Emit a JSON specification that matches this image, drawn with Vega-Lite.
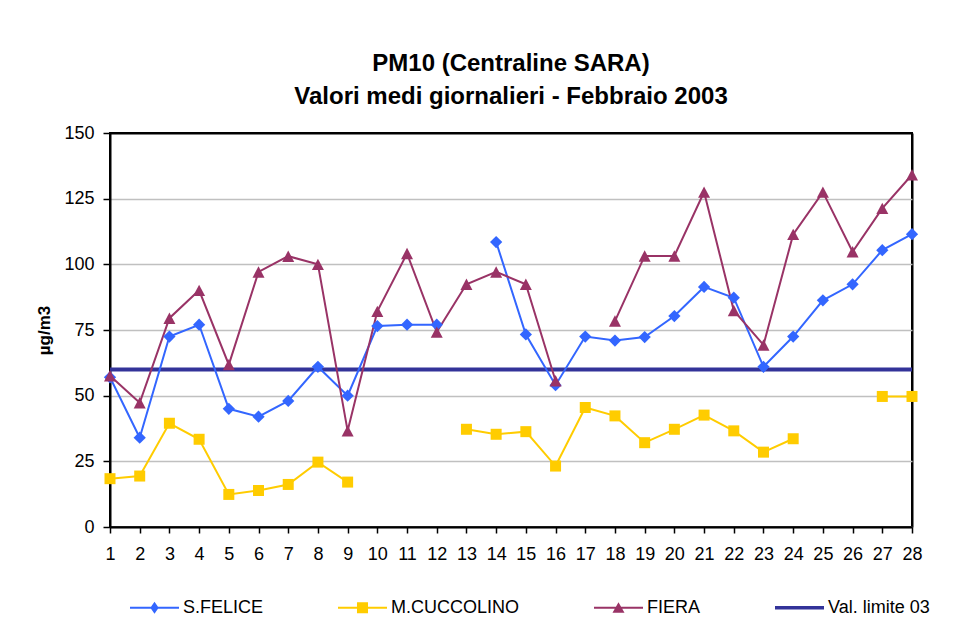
{
  "$schema": "https://vega.github.io/schema/vega-lite/v6.json",
  "width": 802,
  "height": 394,
  "autosize": "none",
  "padding": {"left": 110, "top": 133, "right": 60, "bottom": 101},
  "background": "white",
  "view": {"stroke": "black", "strokeWidth": 2},
  "title": {
    "text": ["PM10 (Centraline SARA)", "Valori medi giornalieri - Febbraio 2003"],
    "font": "Liberation Sans",
    "fontSize": 24,
    "fontWeight": "bold",
    "color": "black",
    "lineHeight": 33,
    "anchor": "middle",
    "frame": "group",
    "offset": 15
  },
  "config": {
    "view": {"stroke": "black", "strokeWidth": 2},
    "font": "Liberation Sans",
    "axis": {
      "labelFont": "Liberation Sans",
      "labelFontSize": 18,
      "labelColor": "black",
      "domainColor": "black",
      "domainWidth": 2,
      "tickColor": "black",
      "tickWidth": 1.5,
      "tickSize": 6,
      "titleFont": "Liberation Sans",
      "titleColor": "black"
    },
    "legend": {
      "labelFont": "Liberation Sans",
      "labelFontSize": 18,
      "labelColor": "black",
      "labelOffset": 4,
      "symbolSize": 2401,
      "symbolOpacity": 1,
      "symbolStrokeWidth": 0,
      "padding": 0,
      "columnPadding": 74
    }
  },
  "data": {
    "values": [
      {"day": 1, "series": "S.FELICE", "value": 57},
      {"day": 2, "series": "S.FELICE", "value": 34},
      {"day": 3, "series": "S.FELICE", "value": 72.5},
      {"day": 4, "series": "S.FELICE", "value": 77},
      {"day": 5, "series": "S.FELICE", "value": 45},
      {"day": 6, "series": "S.FELICE", "value": 42},
      {"day": 7, "series": "S.FELICE", "value": 48},
      {"day": 8, "series": "S.FELICE", "value": 61},
      {"day": 9, "series": "S.FELICE", "value": 50},
      {"day": 10, "series": "S.FELICE", "value": 76.5},
      {"day": 11, "series": "S.FELICE", "value": 77},
      {"day": 12, "series": "S.FELICE", "value": 77},
      {"day": 13, "series": "S.FELICE", "value": null},
      {"day": 14, "series": "S.FELICE", "value": 108.5},
      {"day": 15, "series": "S.FELICE", "value": 73.3},
      {"day": 16, "series": "S.FELICE", "value": 54},
      {"day": 17, "series": "S.FELICE", "value": 72.5},
      {"day": 18, "series": "S.FELICE", "value": 71},
      {"day": 19, "series": "S.FELICE", "value": 72.3},
      {"day": 20, "series": "S.FELICE", "value": 80.3},
      {"day": 21, "series": "S.FELICE", "value": 91.4},
      {"day": 22, "series": "S.FELICE", "value": 87.3},
      {"day": 23, "series": "S.FELICE", "value": 61},
      {"day": 24, "series": "S.FELICE", "value": 72.5},
      {"day": 25, "series": "S.FELICE", "value": 86.3},
      {"day": 26, "series": "S.FELICE", "value": 92.4},
      {"day": 27, "series": "S.FELICE", "value": 105.4},
      {"day": 28, "series": "S.FELICE", "value": 111.5},
      {"day": 1, "series": "M.CUCCOLINO", "value": 18.4},
      {"day": 2, "series": "M.CUCCOLINO", "value": 19.4},
      {"day": 3, "series": "M.CUCCOLINO", "value": 39.5},
      {"day": 4, "series": "M.CUCCOLINO", "value": 33.4},
      {"day": 5, "series": "M.CUCCOLINO", "value": 12.4},
      {"day": 6, "series": "M.CUCCOLINO", "value": 13.9},
      {"day": 7, "series": "M.CUCCOLINO", "value": 16.2},
      {"day": 8, "series": "M.CUCCOLINO", "value": 24.7},
      {"day": 9, "series": "M.CUCCOLINO", "value": 17.1},
      {"day": 10, "series": "M.CUCCOLINO", "value": null},
      {"day": 11, "series": "M.CUCCOLINO", "value": null},
      {"day": 12, "series": "M.CUCCOLINO", "value": null},
      {"day": 13, "series": "M.CUCCOLINO", "value": 37.2},
      {"day": 14, "series": "M.CUCCOLINO", "value": 35.3},
      {"day": 15, "series": "M.CUCCOLINO", "value": 36.3},
      {"day": 16, "series": "M.CUCCOLINO", "value": 23.2},
      {"day": 17, "series": "M.CUCCOLINO", "value": 45.5},
      {"day": 18, "series": "M.CUCCOLINO", "value": 42.3},
      {"day": 19, "series": "M.CUCCOLINO", "value": 32.1},
      {"day": 20, "series": "M.CUCCOLINO", "value": 37.2},
      {"day": 21, "series": "M.CUCCOLINO", "value": 42.6},
      {"day": 22, "series": "M.CUCCOLINO", "value": 36.6},
      {"day": 23, "series": "M.CUCCOLINO", "value": 28.5},
      {"day": 24, "series": "M.CUCCOLINO", "value": 33.6},
      {"day": 25, "series": "M.CUCCOLINO", "value": null},
      {"day": 26, "series": "M.CUCCOLINO", "value": null},
      {"day": 27, "series": "M.CUCCOLINO", "value": 49.7},
      {"day": 28, "series": "M.CUCCOLINO", "value": 49.7},
      {"day": 1, "series": "FIERA", "value": 57.6},
      {"day": 2, "series": "FIERA", "value": 47.3},
      {"day": 3, "series": "FIERA", "value": 79.5},
      {"day": 4, "series": "FIERA", "value": 90.1},
      {"day": 5, "series": "FIERA", "value": 61.8},
      {"day": 6, "series": "FIERA", "value": 97.1},
      {"day": 7, "series": "FIERA", "value": 103.1},
      {"day": 8, "series": "FIERA", "value": 100},
      {"day": 9, "series": "FIERA", "value": 36.6},
      {"day": 10, "series": "FIERA", "value": 82.1},
      {"day": 11, "series": "FIERA", "value": 104.1},
      {"day": 12, "series": "FIERA", "value": 74.2},
      {"day": 13, "series": "FIERA", "value": 92.4},
      {"day": 14, "series": "FIERA", "value": 97.1},
      {"day": 15, "series": "FIERA", "value": 92.4},
      {"day": 16, "series": "FIERA", "value": 55.7},
      {"day": 17, "series": "FIERA", "value": null},
      {"day": 18, "series": "FIERA", "value": 78.4},
      {"day": 19, "series": "FIERA", "value": 103.2},
      {"day": 20, "series": "FIERA", "value": 103.2},
      {"day": 21, "series": "FIERA", "value": 127.5},
      {"day": 22, "series": "FIERA", "value": 82.4},
      {"day": 23, "series": "FIERA", "value": 69.3},
      {"day": 24, "series": "FIERA", "value": 111.4},
      {"day": 25, "series": "FIERA", "value": 127.5},
      {"day": 26, "series": "FIERA", "value": 104.8},
      {"day": 27, "series": "FIERA", "value": 121.3},
      {"day": 28, "series": "FIERA", "value": 134.1},
      {"day": 1, "series": "Val. limite 03", "value": 60},
      {"day": 2, "series": "Val. limite 03", "value": 60},
      {"day": 3, "series": "Val. limite 03", "value": 60},
      {"day": 4, "series": "Val. limite 03", "value": 60},
      {"day": 5, "series": "Val. limite 03", "value": 60},
      {"day": 6, "series": "Val. limite 03", "value": 60},
      {"day": 7, "series": "Val. limite 03", "value": 60},
      {"day": 8, "series": "Val. limite 03", "value": 60},
      {"day": 9, "series": "Val. limite 03", "value": 60},
      {"day": 10, "series": "Val. limite 03", "value": 60},
      {"day": 11, "series": "Val. limite 03", "value": 60},
      {"day": 12, "series": "Val. limite 03", "value": 60},
      {"day": 13, "series": "Val. limite 03", "value": 60},
      {"day": 14, "series": "Val. limite 03", "value": 60},
      {"day": 15, "series": "Val. limite 03", "value": 60},
      {"day": 16, "series": "Val. limite 03", "value": 60},
      {"day": 17, "series": "Val. limite 03", "value": 60},
      {"day": 18, "series": "Val. limite 03", "value": 60},
      {"day": 19, "series": "Val. limite 03", "value": 60},
      {"day": 20, "series": "Val. limite 03", "value": 60},
      {"day": 21, "series": "Val. limite 03", "value": 60},
      {"day": 22, "series": "Val. limite 03", "value": 60},
      {"day": 23, "series": "Val. limite 03", "value": 60},
      {"day": 24, "series": "Val. limite 03", "value": 60},
      {"day": 25, "series": "Val. limite 03", "value": 60},
      {"day": 26, "series": "Val. limite 03", "value": 60},
      {"day": 27, "series": "Val. limite 03", "value": 60},
      {"day": 28, "series": "Val. limite 03", "value": 60}
    ]
  },
  "encoding": {
    "x": {
      "field": "day",
      "type": "ordinal",
      "scale": {"type": "point", "padding": 0},
      "axis": {
        "title": null,
        "labelAngle": 0,
        "labelPadding": 12,
        "grid": true,
        "gridColor": "black",
        "gridWidth": 2,
        "gridOpacity": {"condition": {"test": "datum.value === 28", "value": 1}, "value": 0}
      }
    },
    "y": {
      "field": "value",
      "type": "quantitative",
      "scale": {"domain": [0, 150], "nice": false},
      "axis": {
        "title": "µg/m3",
        "titleFontSize": 17,
        "titleFontWeight": "bold",
        "titlePadding": 10,
        "values": [0, 25, 50, 75, 100, 125, 150],
        "grid": true,
        "gridColor": {"condition": {"test": "datum.value === 150", "value": "black"}, "value": "#c0c0c0"},
        "gridWidth": {"condition": {"test": "datum.value === 150", "value": 2}, "value": 1.5},
        "tickSize": 7,
        "labelPadding": 9
      }
    },
    "color": {
      "field": "series",
      "type": "nominal",
      "scale": {
        "domain": ["S.FELICE", "M.CUCCOLINO", "FIERA", "Val. limite 03"],
        "range": ["#3366FF", "#FFCC00", "#993366", "#333399"]
      }
    }
  },
  "layer": [
    {
      "transform": [{"filter": "datum.series === 'Val. limite 03'"}],
      "mark": {"type": "line", "strokeWidth": 4}
    },
    {
      "transform": [{"filter": "datum.series !== 'Val. limite 03'"}],
      "mark": {"type": "line", "strokeWidth": 2, "invalid": "break-paths-filter-domains"}
    },
    {
      "transform": [{"filter": "datum.series === 'S.FELICE' && datum.value != null"}],
      "mark": {"type": "point", "shape": "diamond", "filled": true, "size": 150, "opacity": 1}
    },
    {
      "transform": [{"filter": "datum.series === 'M.CUCCOLINO' && datum.value != null"}],
      "mark": {"type": "point", "shape": "square", "filled": true, "size": 121, "opacity": 1}
    },
    {
      "transform": [{"filter": "datum.series === 'FIERA' && datum.value != null"}],
      "mark": {"type": "point", "shape": "M0,-0.95L1,0.95L-1,0.95Z", "filled": true, "size": 144, "opacity": 1}
    },
    {
      "transform": [{"filter": "datum.value != null && datum.day === 1"}],
      "mark": {"type": "point", "filled": true, "opacity": 0},
      "encoding": {
        "shape": {
          "field": "series",
          "type": "nominal",
          "scale": {
            "domain": ["S.FELICE", "M.CUCCOLINO", "FIERA", "Val. limite 03"],
            "range": [
              "M-1,-0.04L1,-0.04L1,0.04L-1,0.04Z M-0.17,0L0,-0.245L0.17,0L0,0.245Z",
              "M-1,-0.04L1,-0.04L1,0.04L-1,0.04Z M-0.225,-0.225L0.225,-0.225L0.225,0.225L-0.225,0.225Z",
              "M-1,-0.04L1,-0.04L1,0.04L-1,0.04Z M0,-0.22L0.245,0.2L-0.245,0.2Z",
              "M-1,-0.07L1,-0.07L1,0.07L-1,0.07Z"
            ]
          },
          "legend": {
            "title": null,
            "orient": "none",
            "direction": "horizontal",
            "legendX": 20,
            "legendY": 450,
            "symbolOpacity": 1
          }
        },
        "color": {
          "field": "series",
          "type": "nominal",
          "scale": {
            "domain": ["S.FELICE", "M.CUCCOLINO", "FIERA", "Val. limite 03"],
            "range": ["#3366FF", "#FFCC00", "#993366", "#333399"]
          },
          "legend": {
            "title": null,
            "orient": "none",
            "direction": "horizontal",
            "legendX": 20,
            "legendY": 450,
            "symbolOpacity": 1
          }
        }
      }
    }
  ]
}
